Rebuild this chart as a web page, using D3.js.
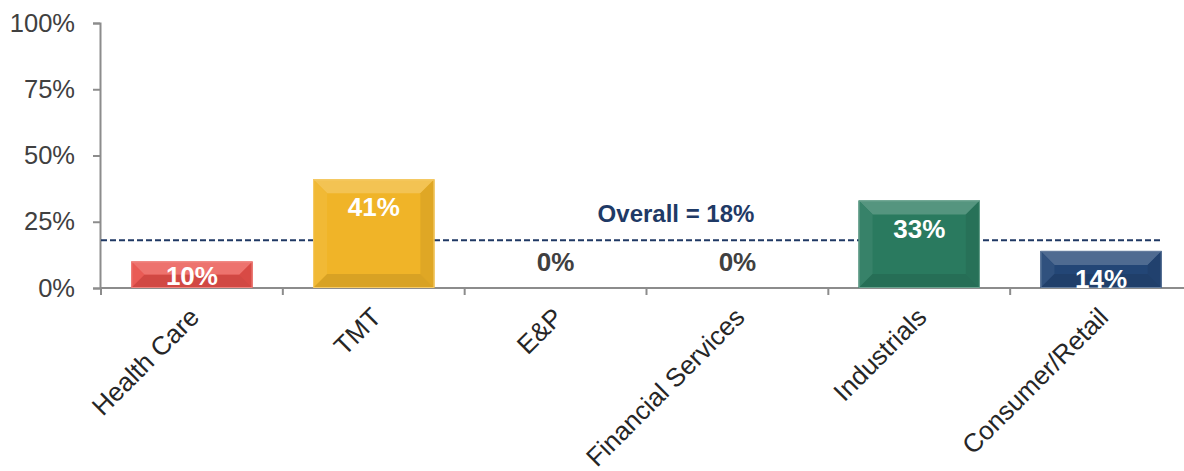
<!DOCTYPE html>
<html><head><meta charset="utf-8">
<script src="https://cdn.jsdelivr.net/npm/d3@7"></script>
<style>body{margin:0;background:#fff}svg{display:block}</style>
</head><body>
<svg id="c" width="1184" height="471"></svg>
<script>
const categories = ["Health Care","TMT","E&P","Financial Services","Industrials","Consumer/Retail"];
const values = [10, 41, 0, 0, 33, 14];
const barColors = ["#E8504A","#F0B428","#7F7F7F","#7F7F7F","#2A7A5F","#234676"];
const overall = 18;
const overallLabel = "Overall = 18%";
const yTicks = [0, 25, 50, 75, 100];

const svg = d3.select("#c");
const font = "'Liberation Sans', Arial, sans-serif";
const x = d3.scaleBand().domain(categories).range([101, 1192]).paddingInner(0).paddingOuter(0);
const y = d3.scaleLinear().domain([0, 100]).range([288, 23]);
const barW = x.bandwidth() * 0.667;

// Y axis
const yAxis = svg.append("g").attr("transform","translate(100,0)")
  .call(d3.axisLeft(y).tickValues(yTicks).tickFormat(d => d + "%").tickSizeOuter(0).tickSize(7).tickPadding(18));
yAxis.select(".domain").attr("stroke","#8C8C8C").attr("stroke-width",2);
yAxis.selectAll(".tick line").attr("stroke","#8C8C8C").attr("stroke-width",2);
yAxis.selectAll(".tick text").attr("font-family",font).attr("font-size",25.5).attr("fill","#404040");

// X axis
const xAxis = svg.append("g").attr("transform","translate(0,288)");
xAxis.append("line").attr("x1",100).attr("x2",1184).attr("y1",0).attr("y2",0)
  .attr("stroke","#8C8C8C").attr("stroke-width",2);
xAxis.selectAll("line.tk").data(categories).enter().append("line").attr("class","tk")
  .attr("x1",d=>x(d)).attr("x2",d=>x(d)).attr("y1",0).attr("y2",7)
  .attr("stroke","#8C8C8C").attr("stroke-width",2);
xAxis.selectAll("text").data(categories).enter().append("text")
  .attr("transform", d => `translate(${x(d)+x.bandwidth()/2-4},${18}) rotate(-45)`)
  .attr("text-anchor","end").attr("dy","0.7em")
  .attr("font-family",font).attr("font-size",26).attr("fill","#262626")
  .text(d=>d);

// Overall dashed line
svg.append("line").attr("x1",101).attr("x2",1162).attr("y1",y(overall)).attr("y2",y(overall))
  .attr("stroke","#1F3864").attr("stroke-width",2).attr("stroke-dasharray","6,3");
svg.append("text").attr("x",676).attr("y",y(overall)-18).attr("text-anchor","middle")
  .attr("font-family",font).attr("font-weight","bold").attr("font-size",24).attr("fill","#1F3A66")
  .text(overallLabel);

// Bars with bevel
const data = categories.map((c,i)=>({c, v: values[i], col: barColors[i]}));
const bars = svg.append("g");
data.forEach(d => {
  if (d.v <= 0) return;
  const x0 = x(d.c) + (x.bandwidth()-barW)/2, x1 = x0 + barW;
  const y0 = y(d.v), y1 = y(0);
  const h = y1 - y0;
  const b = Math.min(14, h/2);
  const base = d3.color(d.col);
  const g = bars.append("g");
  g.append("rect").attr("x",x0).attr("y",y0).attr("width",barW).attr("height",h).attr("fill",base);
  const P = pts => pts.map(p=>p.join(",")).join(" ");
  g.append("polygon").attr("points",P([[x0,y0],[x1,y0],[x1-b,y0+b],[x0+b,y0+b]])).attr("fill",d3.interpolateRgb(base,"#fff")(0.2));
  g.append("polygon").attr("points",P([[x0,y0],[x0+b,y0+b],[x0+b,y1-b],[x0,y1]])).attr("fill",d3.interpolateRgb(base,"#fff")(0.06));
  g.append("polygon").attr("points",P([[x1,y0],[x1-b,y0+b],[x1-b,y1-b],[x1,y1]])).attr("fill",d3.interpolateRgb(base,"#000")(0.07));
  g.append("polygon").attr("points",P([[x0,y1],[x0+b,y1-b],[x1-b,y1-b],[x1,y1]])).attr("fill",d3.interpolateRgb(base,"#000")(0.1));
  g.append("rect").attr("x",x0+0.5).attr("y",y0+0.5).attr("width",barW-1).attr("height",h-1)
    .attr("fill","none").attr("stroke",d3.interpolateRgb(base,"#fff")(0.3)).attr("stroke-width",1);
});

// Value labels
const labels = svg.append("g").attr("font-family",font).attr("font-weight","bold").attr("font-size",26).attr("text-anchor","middle");
data.forEach(d => {
  const cx = x(d.c) + x.bandwidth()/2;
  const top = y(d.v), bottom = y(0);
  let ty, fill;
  if (d.v <= 0) { ty = bottom - 17; fill = "#404040"; }
  else {
    ty = top + 37; fill = "#fff";
    if (ty > bottom) ty = (top + bottom)/2 + 10;
  }
  labels.append("text").attr("x",cx).attr("y",ty).attr("fill",fill).text(d.v + "%");
});
svg.append("rect").attr("x",101).attr("y",289).attr("width",1083).attr("height",14).attr("fill","#fff").lower();
</script>
</body></html>
